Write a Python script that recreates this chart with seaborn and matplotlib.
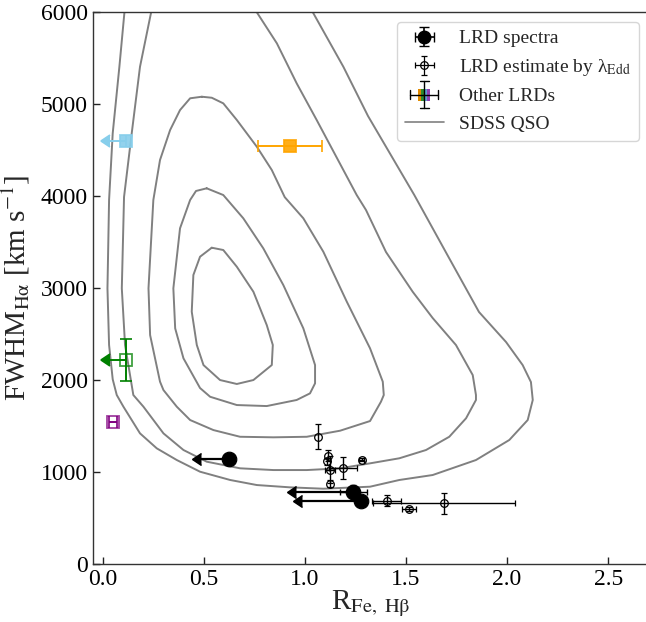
import numpy as np
import matplotlib
matplotlib.use("Agg")
import matplotlib.pyplot as plt
import seaborn as sns
from matplotlib.legend_handler import HandlerBase
from matplotlib.patches import Rectangle
from matplotlib.lines import Line2D

# ---------------- data ----------------
# SDSS QSO density contours (traced paths), outermost -> innermost
qso_e_x = [0.107, 0.082, 0.049, 0.031, 0.023, 0.031, 0.049, 0.069, 0.102, 0.184, 0.267, 0.366,
           0.481, 0.630, 0.762, 0.926, 1.091, 1.322, 1.467, 1.632, 1.846, 2.011, 2.102, 2.127,
           2.118, 2.077, 1.995, 1.861, 1.713, 1.541, 1.312, 1.190, 1.039]
qso_e_y = [6000, 5408, 4684, 3959, 2998, 2382, 2009, 1838, 1711, 1421, 1258, 1131,
           1004, 914, 859, 834, 819, 841, 914, 968, 1131, 1349, 1566, 1784,
           1979, 2164, 2414, 2741, 3328, 4013, 4872, 5408, 6000]

qso_d_x = [0.239, 0.184, 0.143, 0.105, 0.094, 0.110, 0.151, 0.201, 0.300, 0.399, 0.514, 0.679,
           0.844, 1.009, 1.174, 1.322, 1.467, 1.599, 1.714, 1.797, 1.846, 1.846, 1.830, 1.747,
           1.632, 1.533, 1.401, 1.302, 1.256, 1.058, 0.959, 0.861, 0.762]
qso_d_y = [6000, 5408, 4684, 3991, 2998, 2382, 1838, 1711, 1421, 1240, 1113, 1041,
           1022, 1022, 1041, 1095, 1150, 1240, 1384, 1585, 1784, 1838, 2055, 2382,
           2675, 2961, 3393, 3850, 4013, 4829, 5228, 5663, 6000]

qso_c_x = [0.490, 0.539, 0.596, 0.663, 0.762, 0.836, 0.900, 0.992, 1.091, 1.207, 1.322, 1.385,
           1.390, 1.376, 1.322, 1.174, 1.009, 0.844, 0.679, 0.547, 0.432, 0.366, 0.300, 0.283,
           0.234, 0.226, 0.250, 0.283, 0.333, 0.382, 0.432, 0.490]
qso_c_y = [5082, 5071, 5010, 4829, 4538, 4285, 3990, 3760, 3396, 2853, 2346, 1983,
           1838, 1765, 1555, 1450, 1384, 1378, 1384, 1457, 1566, 1711, 1892, 1983,
           2490, 2998, 3959, 4394, 4720, 4937, 5065, 5082]

qso_b_x = [0.514, 0.596, 0.695, 0.794, 0.893, 0.992, 1.050, 1.050, 1.025, 0.959, 0.811, 0.663,
           0.531, 0.481, 0.399, 0.358, 0.349, 0.382, 0.432, 0.461, 0.514]
qso_b_y = [4086, 4013, 3760, 3433, 3034, 2563, 2164, 1965, 1856, 1784, 1718, 1729,
           1819, 1914, 2237, 2563, 2998, 3651, 3959, 4057, 4086]

qso_a_x = [0.539, 0.596, 0.663, 0.745, 0.811, 0.841, 0.836, 0.745, 0.663, 0.580, 0.498, 0.465,
           0.440, 0.448, 0.481, 0.539]
qso_a_y = [3440, 3415, 3233, 2961, 2599, 2382, 2164, 2001, 1958, 2001, 2164, 2382,
           2744, 3143, 3342, 3440]

# LRD spectra (upper limits in R_Fe)
spec_x = [0.625, 1.239, 1.276]
spec_y = [1139, 783, 689]
spec_lim = [0.14, 0.285, 0.29]
spec_xerr = [0.0, 0.066, 0.0]
spec_yerr = [0.0, 80.0, 0.0]

# LRD estimate by lambda_Edd
est_x = [1.066, 1.113, 1.108, 1.124, 1.188, 1.281, 1.126, 1.404, 1.515, 1.688]
est_y = [1384, 1178, 1117, 1026, 1044, 1134, 873, 689, 598, 660]
est_xerr = [0.0, 0.0, 0.0, 0.027, 0.07, 0.012, 0.0, 0.072, 0.035, 0.35]
est_yerr = [134, 59, 40, 150, 120, 15, 40, 60, 20, 112]

# Other LRDs
oth_x = [0.114, 0.926, 0.115, 0.050]
oth_y = [4600, 4543, 2219, 1544]
oth_xerr = [0.08, 0.16, 0.08, 0.02]
oth_yerr = [0, 0, 229, 0]
oth_uplim = [True, False, True, False]
oth_filled = [True, True, False, False]
oth_colors = ["skyblue", "orange", "green", "purple"]

x_ticks = [0.0, 0.5, 1.0, 1.5, 2.0, 2.5]
y_ticks = [0, 1000, 2000, 3000, 4000, 5000, 6000]

# ---------------- style ----------------
sns.set_style("ticks")
plt.rcParams["font.family"] = ["Liberation Serif", "DejaVu Serif"]
plt.rcParams["mathtext.fontset"] = "stix"

fig = plt.figure(figsize=(6.46, 6.22), dpi=100)
ax = fig.add_axes([0.1435, 0.0932, 0.8605, 0.887])

contour_color = "#808080"
for cx, cy in [(qso_e_x, qso_e_y), (qso_d_x, qso_d_y), (qso_c_x, qso_c_y),
               (qso_b_x, qso_b_y), (qso_a_x, qso_a_y)]:
    sns.lineplot(x=cx, y=cy, sort=False, estimator=None, color=contour_color,
                 lw=1.4, ax=ax, legend=False)

# LRD estimate points
for xi, yi, xe, ye in zip(est_x, est_y, est_xerr, est_yerr):
    ax.errorbar([xi], [yi], xerr=[xe] if xe > 0 else None, yerr=[ye],
                fmt="o", color="k", mfc="none", mec="k", ms=5.5, mew=0.9, ecolor="k",
                elinewidth=1.0, capsize=2, capthick=1.0, zorder=4)

# LRD spectra: arrows (upper limits) and error bars
for xi, yi, lim, xe, ye in zip(spec_x, spec_y, spec_lim, spec_xerr, spec_yerr):
    ax.errorbar([xi], [yi], xerr=[lim], xuplims=[True], fmt="none", color="k",
                ecolor="k", elinewidth=1.6, capsize=4.5, zorder=5)
    if xe > 0 or ye > 0:
        ax.errorbar([xi], [yi], xerr=[xe], yerr=[ye], fmt="none", color="k",
                    ecolor="k", elinewidth=1.0, capsize=2.5, capthick=1.0, zorder=5)
sns.scatterplot(x=spec_x, y=spec_y, color="k", s=110, edgecolor="k", ax=ax,
                zorder=6, legend=False)

# Other LRDs
for xi, yi, xe, ye, up, fill, c in zip(oth_x, oth_y, oth_xerr, oth_yerr,
                                        oth_uplim, oth_filled, oth_colors):
    ax.errorbar([xi], [yi], xerr=[xe], yerr=[ye] if ye > 0 else None,
                xuplims=[up], fmt="none", color=c, ecolor=c, elinewidth=1.4,
                capsize=4.5, capthick=1.2, zorder=5)
    ax.plot([xi], [yi], marker="s", ms=9,
            mfc=c if fill else "none", mec=c, mew=1.3, alpha=0.75 if not fill else 0.9,
            ls="none", zorder=6)

ax.set_xlim(-0.05, 2.7)
ax.set_ylim(0, 6000)
ax.set_xticks(x_ticks)
ax.set_yticks(y_ticks)
ax.tick_params(direction="in", labelsize=17, length=5, width=1, colors="#222222",
               labelcolor="black")
for sp in ax.spines.values():
    sp.set_linewidth(1.0)
    sp.set_color("#333333")

ax.set_xlabel(r"R$_{\rm Fe,\ H\beta}$", fontsize=21, labelpad=-1)
ax.set_ylabel(r"FWHM$_{\rm H\alpha}$ [km s$^{-1}$]", fontsize=21, labelpad=6)

# ---------------- legend ----------------
class RainbowKey:
    pass


class HandlerRainbow(HandlerBase):
    def create_artists(self, legend, orig_handle, xdescent, ydescent, width,
                       height, fontsize, trans):
        cx = width / 2 - xdescent
        cy = height / 2 - ydescent
        s = fontsize * 0.62
        cols = ["#e08a00", "#2e8b2e", "#5aa0d0", "#9040b0"]
        arts = []
        for i, c in enumerate(cols):
            arts.append(Rectangle((cx - s / 2 + i * s / 4, cy - s / 2), s / 4, s,
                                  facecolor=c, edgecolor="none", transform=trans))
        hw = fontsize * 0.72
        hh = fontsize * 0.68
        cap = fontsize * 0.22
        segs = [([cx - hw, cx + hw], [cy, cy]),
                ([cx, cx], [cy - hh, cy + hh]),
                ([cx - hw, cx - hw], [cy - cap, cy + cap]),
                ([cx + hw, cx + hw], [cy - cap, cy + cap]),
                ([cx - cap, cx + cap], [cy - hh, cy - hh]),
                ([cx - cap, cx + cap], [cy + hh, cy + hh])]
        for xs, ys in segs:
            arts.append(Line2D(xs, ys, color="k", lw=1.0, transform=trans))
        return arts


h_spec = ax.errorbar([np.nan], [np.nan], xerr=[0.1], yerr=[100], fmt="o",
                     color="k", ms=9, elinewidth=1.2, capsize=3.5)
h_est = ax.errorbar([np.nan], [np.nan], xerr=[0.1], yerr=[100], fmt="o",
                    color="k", mfc="none", mec="k", ms=5.5, mew=0.9, ecolor="k",
                    elinewidth=0.9, capsize=2)
h_qso = Line2D([], [], color=contour_color, lw=1.2)

ax.legend([h_spec, h_est, RainbowKey(), h_qso],
          ["LRD spectra", "LRD estimate by λ$_{\\rm Edd}$", "Other LRDs", "SDSS QSO"],
          handler_map={RainbowKey: HandlerRainbow()},
          loc="upper right", fontsize=14, frameon=True)

fig.savefig("out.png", dpi=100)
